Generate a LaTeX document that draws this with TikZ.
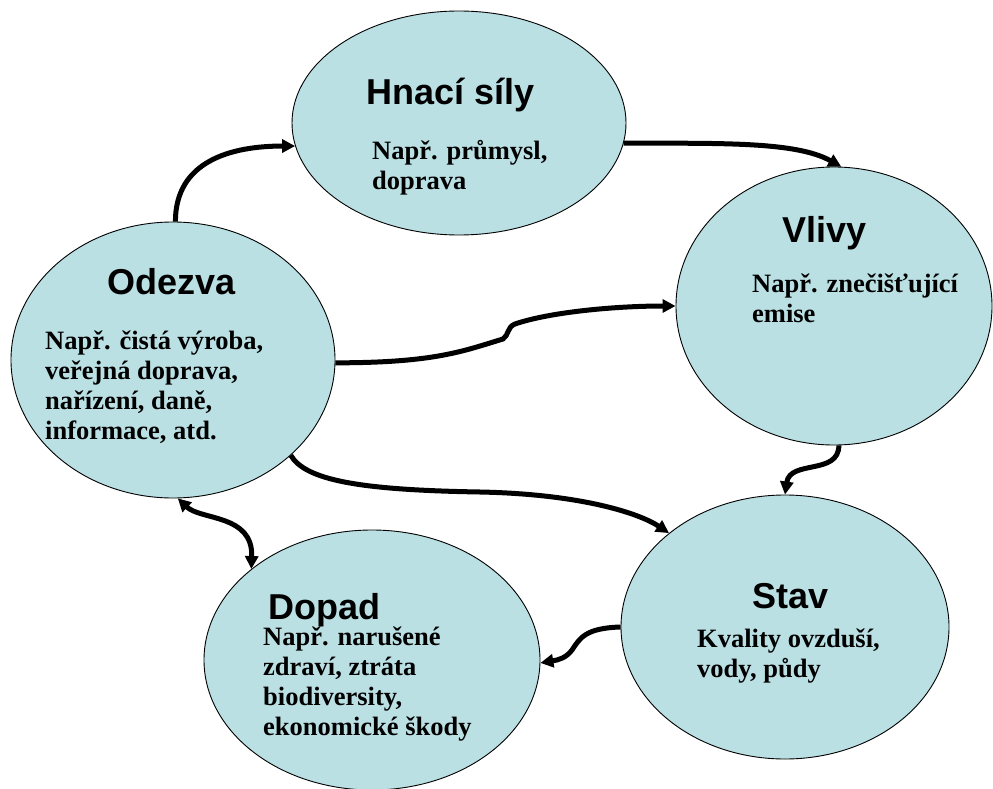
\documentclass[tikz,border=0pt]{standalone}
\usepackage{fontspec}
\setmainfont{Liberation Serif}
\newfontfamily\headfont{Liberation Sans}
\usetikzlibrary{shapes.geometric,arrows.meta}
\definecolor{bubblefill}{RGB}{186,224,228}
\tikzset{
  bubble/.style={ellipse, draw=black, line width=0.9pt, fill=bubblefill, inner sep=0pt},
  heading/.style={anchor=base west, inner sep=0pt, font=\headfont\bfseries\fontsize{36}{42}\selectfont},
  % multi-line blocks: the base anchor sits on the last line's baseline
  body/.style={anchor=base west, inner sep=0pt, align=left, font=\bfseries\fontsize{26.5}{30.3}\selectfont},
  tipshape/.tip={Triangle[length=13pt,width=13pt]},
  link/.style={line width=5pt, -tipshape},
  twolink/.style={line width=5pt, tipshape-tipshape},
}
\begin{document}
\begin{tikzpicture}[x=1pt,y=-1pt]
\useasboundingbox (0,0) rectangle (993,789);

% the five stages of the cycle
\node[bubble, minimum width=334pt, minimum height=224pt] (hnaci) at (459,123) {};
\node[bubble, minimum width=316pt, minimum height=278pt] (vlivy) at (834,306) {};
\node[bubble, minimum width=324pt, minimum height=276pt] (odezva) at (173,360) {};
\node[bubble, minimum width=328pt, minimum height=264pt] (stav) at (785,627) {};
\node[bubble, minimum width=336pt, minimum height=260pt] (dopad) at (372,660) {};

% connectors
\draw[link] (odezva.89) .. controls +(0,-60) and +(-65,0) .. (hnaci.188);
\draw[link] (hnaci.-7) .. controls +(100,0) and +(-45,-25) .. (vlivy.87);
\draw[link] (odezva.-1) .. controls +(100,0) and +(-40,12) .. (503,339)
  .. controls +(6,-4) and +(-8,3) .. (515,324)
  .. controls +(35,-12) and +(-60,0) .. (vlivy.180);
\draw[link] (odezva.-39) .. controls +(15,25) and +(-120,-2) .. (480,492)
  .. controls +(100,2) and +(-30,-20) .. (stav.141);
\draw[link] (vlivy.-88) .. controls +(0,30) and +(5,-35) .. (stav.90);
\draw[twolink] (odezva.-88) .. controls +(23,22) and +(2,-55) .. (dopad.143);
\draw[link] (stav.180) .. controls +(-35,1) and +(8,-12) .. (572,650)
  .. controls +(-6,8) and +(18,-3) .. (dopad.-1);

% headings
\node[heading] (hnaciT) at (366,105) {Hnací síly};
\node[heading] (vlivyT) at (782,242) {Vlivy};
\node[heading] (odezvaT) at (107,294) {Odezva};
\node[heading] (stavT) at (752,608) {Stav};
\node[heading] (dopadT) at (268,619) {Dopad};

% descriptions
\node[body] (hnaciB) at (372,189.3) {Např. průmysl,\\doprava};
\node[body] (vlivyB) at (752,322.3) {Např. znečišťující\\emise};
\node[body] (odezvaB) at (45,439.9) {Např. čistá výroba,\\veřejná doprava,\\nařízení, daně,\\informace, atd.};
\node[body] (stavB) at (697,677.3) {Kvality ovzduší,\\vody, půdy};
\node[body] (dopadB) at (263,735.9) {Např. narušené\\zdraví, ztráta\\biodiversity,\\ekonomické škody};
\end{tikzpicture}
\end{document}
